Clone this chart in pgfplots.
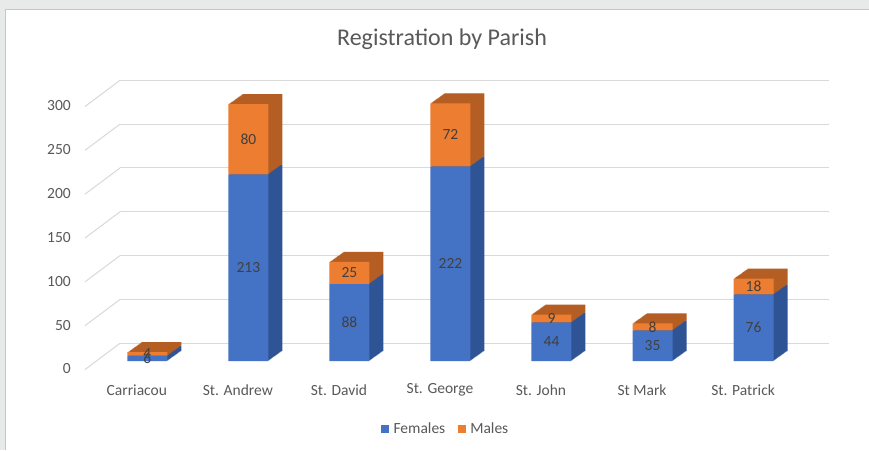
\documentclass[border=0pt]{standalone}
\usepackage{pgfplots}
\pgfplotsset{compat=1.18}
\usepackage{pgfplotstable}
\usepackage{fontspec}
\setmainfont{Carlito}
\definecolor{fblue}{HTML}{4472C4}
\definecolor{fbluedk}{HTML}{2F5496}
\definecolor{morange}{HTML}{ED7D31}
\definecolor{morangedk}{HTML}{B55E23}
\definecolor{gridc}{HTML}{D9D9D9}
\definecolor{txt}{HTML}{595959}
\definecolor{lbl}{HTML}{404040}
\definecolor{bg}{HTML}{E8E9E9}

\pgfplotstableread{
x F M
0 6 4
1 213 80
2 88 25
3 222 72
4 44 9
5 35 8
6 76 18
}\parishdata

\tikzset{extrude/.style={
 preaction={fill=#1,transform canvas={shift={(14pt,10pt)}}},
 preaction={fill=#1,transform canvas={shift={(13pt,9.286pt)}}},
 preaction={fill=#1,transform canvas={shift={(12pt,8.571pt)}}},
 preaction={fill=#1,transform canvas={shift={(11pt,7.857pt)}}},
 preaction={fill=#1,transform canvas={shift={(10pt,7.143pt)}}},
 preaction={fill=#1,transform canvas={shift={(9pt,6.429pt)}}},
 preaction={fill=#1,transform canvas={shift={(8pt,5.714pt)}}},
 preaction={fill=#1,transform canvas={shift={(7pt,5pt)}}},
 preaction={fill=#1,transform canvas={shift={(6pt,4.286pt)}}},
 preaction={fill=#1,transform canvas={shift={(5pt,3.571pt)}}},
 preaction={fill=#1,transform canvas={shift={(4pt,2.857pt)}}},
 preaction={fill=#1,transform canvas={shift={(3pt,2.143pt)}}},
 preaction={fill=#1,transform canvas={shift={(2pt,1.429pt)}}},
 preaction={fill=#1,transform canvas={shift={(1pt,0.714pt)}}}
}}
\pgfplotsset{sqlegend/.style={legend image code/.code={\fill[##1] (0pt,-3.5pt) rectangle (8pt,4.5pt);}}}

\begin{document}
\begin{tikzpicture}
\path[use as bounding box] (0,0) rectangle (869pt,450pt);
\fill[bg] (0,0) rectangle (869pt,450pt);
\fill[white] (5pt,0) rectangle (869pt,441pt);
\draw[gray!45, line width=0.8pt] (5pt,0) -- (5pt,441pt) -- (869pt,441pt);
\begin{axis}[
  at={(96.8pt,89pt)}, anchor=south west,
  scale only axis, width=707.3pt, height=263pt,
  xmin=-0.5, xmax=6.5, ymin=0, ymax=300,
  clip=false,
  ybar stacked, reverse stacked plots=false, bar width=40pt,
  axis line style={draw=none},
  major tick length=0pt,
  xtick=data,
  xticklabels={Carriacou,St. Andrew,St. David,St. George,St. John,St Mark,St. Patrick},
  ytick={0,50,100,150,200,250,300},
  xticklabel style={anchor=center, xshift=-10.5pt, yshift=-29pt, font=\fontsize{15.5}{18}\selectfont, text=txt},
  yticklabel style={anchor=east, xshift=-22.5pt, yshift=-8pt, font=\fontsize{15.5}{18}\selectfont, text=txt},
  /pgf/number format/assume math mode=true,
  legend style={at={(0.495,-0.2586)}, anchor=center, draw=none, fill=none,
    legend columns=2, font=\fontsize{15.5}{18}\selectfont, text=txt,
    nodes={inner xsep=4.5pt},
    /tikz/every even column/.append style={column sep=8pt}},
]
\pgfplotsinvokeforeach{0,50,100,150,200,250,300}{
  \draw[gridc, line width=1pt] ([shift={(23.2pt,17.7pt)}]axis cs:-0.5,#1) -- ([shift={(24.9pt,17.7pt)}]axis cs:6.5,#1);
  \draw[gridc, line width=1pt] ([shift={(-11.8pt,-8.5pt)}]axis cs:-0.5,#1) -- ([shift={(23.2pt,17.7pt)}]axis cs:-0.5,#1);
}
\addplot[fill=fblue, draw=none, extrude=fbluedk, forget plot,
  nodes near coords, nodes near coords align=center, point meta=explicit,
  every node near coord/.append style={anchor=center, font=\fontsize{15.5}{18}\selectfont, text=lbl}]
  table[x=x, y=F, meta=F] {\parishdata};
\addplot[fill=morange, draw=none, extrude=morangedk, forget plot,
  nodes near coords, nodes near coords align=center, point meta=explicit,
  every node near coord/.append style={anchor=center, font=\fontsize{15.5}{18}\selectfont, text=lbl}]
  table[x=x, y=M, meta=M] {\parishdata};
\addlegendimage{fill=fblue, draw=none, sqlegend}
\addlegendentry{Females}
\addlegendimage{fill=morange, draw=none, sqlegend}
\addlegendentry{Males}
\end{axis}
\node[font=\fontsize{24}{28}\selectfont, text=txt] at (442pt,411pt) {Registration by Parish};
\end{tikzpicture}
\end{document}
